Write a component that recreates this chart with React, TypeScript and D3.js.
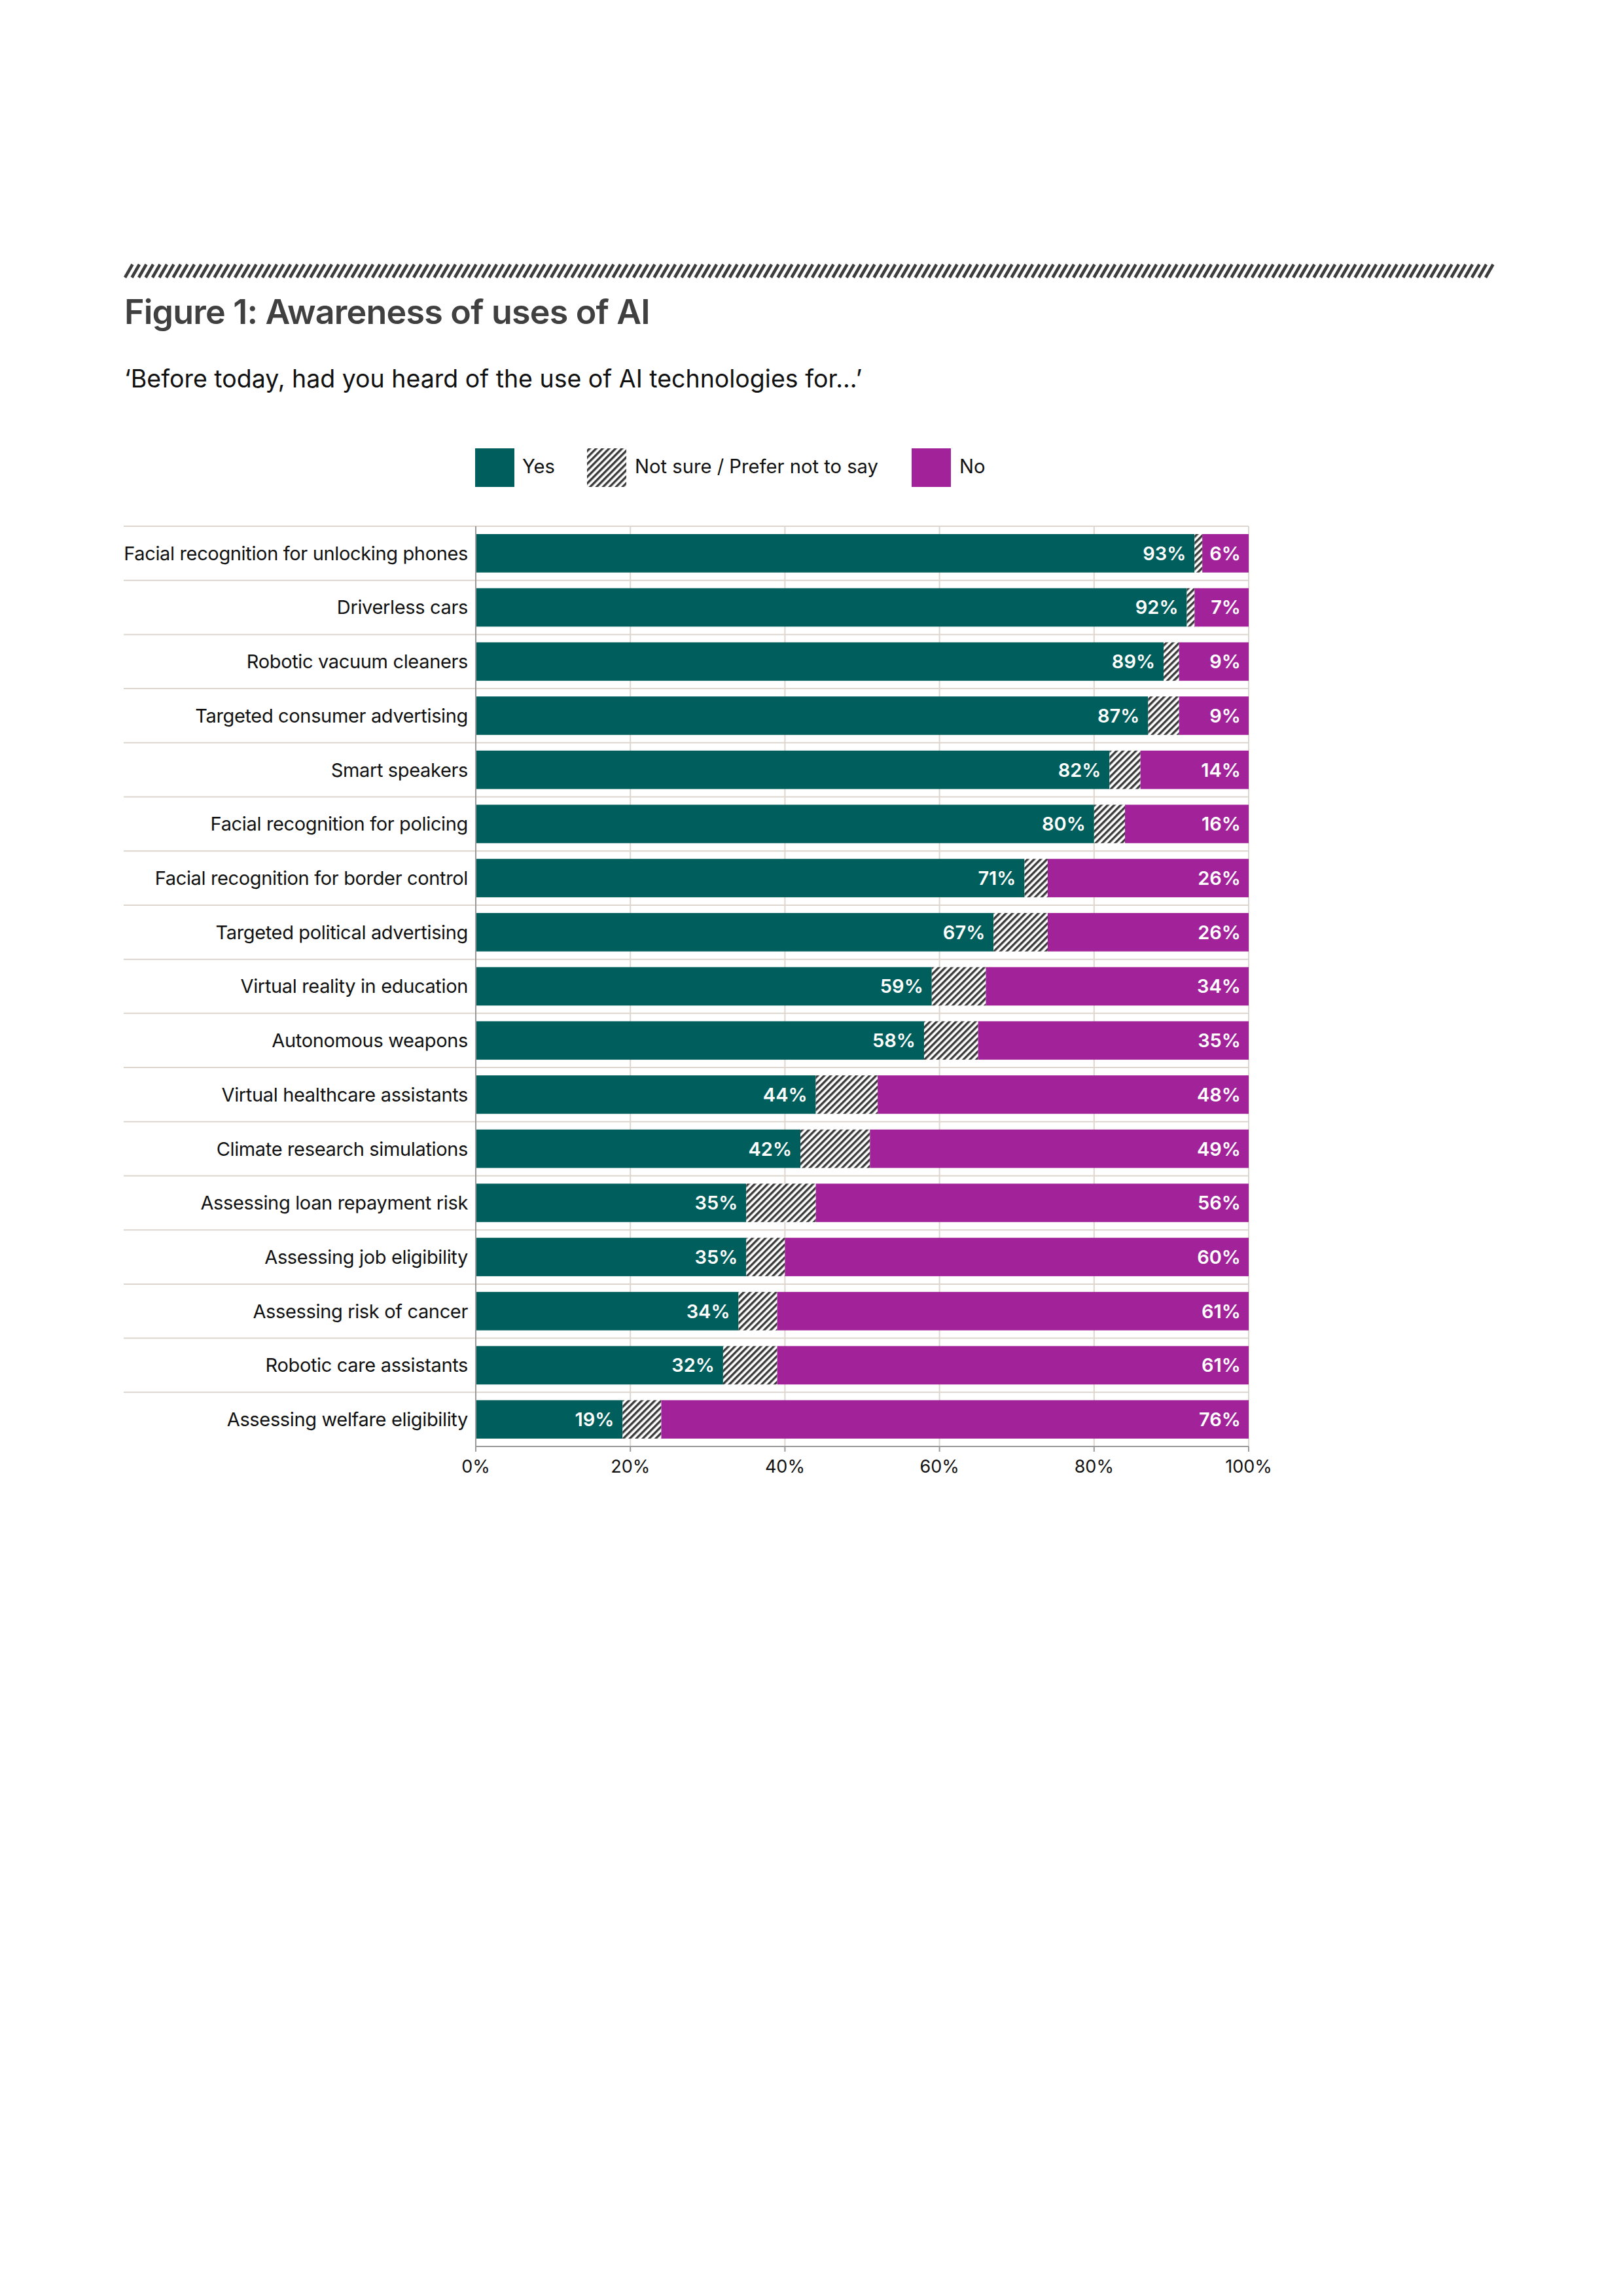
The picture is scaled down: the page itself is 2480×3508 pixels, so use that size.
import React from "react";
import * as d3 from "d3";

const categories = [
  "Facial recognition for unlocking phones",
  "Driverless cars",
  "Robotic vacuum cleaners",
  "Targeted consumer advertising",
  "Smart speakers",
  "Facial recognition for policing",
  "Facial recognition for border control",
  "Targeted political advertising",
  "Virtual reality in education",
  "Autonomous weapons",
  "Virtual healthcare assistants",
  "Climate research simulations",
  "Assessing loan repayment risk",
  "Assessing job eligibility",
  "Assessing risk of cancer",
  "Robotic care assistants",
  "Assessing welfare eligibility",
];
const yesValues = [93, 92, 89, 87, 82, 80, 71, 67, 59, 58, 44, 42, 35, 35, 34, 32, 19];
const notSureValues = [1, 1, 2, 4, 4, 4, 3, 7, 7, 7, 8, 9, 9, 5, 5, 7, 5];
const noValues = [6, 7, 9, 9, 14, 16, 26, 26, 34, 35, 48, 49, 56, 60, 61, 61, 76];
const xTicks = [0, 20, 40, 60, 80, 100];
const legendItems = ["Yes", "Not sure / Prefer not to say", "No"];

const TEAL = "#005f5d";
const PURPLE = "#a2229a";
const FONT = "Inter, 'Noto Sans', sans-serif";

export default function App() {
  const x0 = 727;
  const x1 = 1908;
  const yTop = 804;
  const yBot = 2210;
  const x = d3.scaleLinear().domain([0, 100]).range([x0, x1]);
  const y = d3
    .scaleBand<string>()
    .domain(categories)
    .range([yTop, yBot])
    .paddingInner(0.29)
    .paddingOuter(0.145);
  const step = y.step();
  const bw = y.bandwidth();

  const stripeXs = d3.range(191, 2277, 10.5);

  const rows = categories.map((c, i) => ({
    c,
    yes: yesValues[i],
    ns: notSureValues[i],
    no: noValues[i],
  }));

  return (
    <svg
      width={2480}
      height={3508}
      style={{ position: "absolute", left: 0, top: 0, background: "#fff" }}
      fontFamily={FONT}
    >
      <defs>
        <pattern
          id="hatch"
          patternUnits="userSpaceOnUse"
          width={7}
          height={7}
          patternTransform="rotate(45)"
        >
          <rect width={7} height={7} fill="#fff" />
          <rect width={3.4} height={7} fill="#3a3a3a" />
        </pattern>
      </defs>

      {/* top decorative stripe */}
      <g stroke="#3d3d3d" strokeWidth={4.6}>
        {stripeXs.map((sx, i) => (
          <line key={i} x1={sx} y1={424} x2={sx + 11.5} y2={404} />
        ))}
      </g>

      <text x={190} y={495} fontSize={52} fontWeight={600} fill="#404040" letterSpacing={-0.8}>
        Figure 1: Awareness of uses of AI
      </text>
      <text x={190} y={592} fontSize={37.5} fill="#111">
        ‘Before today, had you heard of the use of AI technologies for...’
      </text>

      {/* legend */}
      <g fontSize={29.2} fill="#111">
        <rect x={726} y={685} width={60} height={59} fill={TEAL} />
        <text x={798} y={723}>{legendItems[0]}</text>
        <rect x={897} y={685} width={60} height={59} fill="url(#hatch)" />
        <text x={970} y={723}>{legendItems[1]}</text>
        <rect x={1393} y={685} width={60} height={59} fill={PURPLE} />
        <text x={1466} y={723}>{legendItems[2]}</text>
      </g>

      {/* grid */}
      <g stroke="#ddd5ce" strokeWidth={2}>
        {xTicks.slice(1).map((t) => (
          <line key={t} x1={x(t)} x2={x(t)} y1={yTop} y2={yBot} />
        ))}
        {categories.map((c, i) => (
          <line key={c} x1={189} x2={x1} y1={yTop + i * step} y2={yTop + i * step} />
        ))}
      </g>

      {/* bars */}
      {rows.map((r) => {
        const yy = y(r.c)!;
        const cy = yy + bw / 2;
        return (
          <g key={r.c}>
            <rect x={x(0)} y={yy} width={x(r.yes) - x(0)} height={bw} fill={TEAL} />
            <rect
              x={x(r.yes)}
              y={yy}
              width={x(r.yes + r.ns) - x(r.yes)}
              height={bw}
              fill="url(#hatch)"
            />
            <rect
              x={x(r.yes + r.ns)}
              y={yy}
              width={x(100) - x(r.yes + r.ns)}
              height={bw}
              fill={PURPLE}
            />
            <text
              x={x(r.yes) - 13}
              y={cy}
              dy="0.36em"
              textAnchor="end"
              fontSize={29}
              fontWeight={600}
              fill="#fff"
            >
              {r.yes}%
            </text>
            <text
              x={x(100) - 12}
              y={cy}
              dy="0.36em"
              textAnchor="end"
              fontSize={29}
              fontWeight={600}
              fill="#fff"
            >
              {r.no}%
            </text>
            <text
              x={715}
              y={cy}
              dy="0.36em"
              textAnchor="end"
              fontSize={29}
              letterSpacing={-0.35}
              fill="#111"
            >
              {r.c}
            </text>
          </g>
        );
      })}

      {/* axes */}
      <line x1={x0} x2={x0} y1={yTop} y2={yBot + 8} stroke="#999" strokeWidth={2} />
      <line x1={x0} x2={x1} y1={yBot} y2={yBot} stroke="#999" strokeWidth={2} />
      {xTicks.map((t) => (
        <g key={t}>
          <line x1={x(t)} x2={x(t)} y1={yBot} y2={yBot + 8} stroke="#999" strokeWidth={2} />
          <text x={x(t)} y={2250} textAnchor="middle" fontSize={27} fill="#111">
            {t}%
          </text>
        </g>
      ))}
    </svg>
  );
}
